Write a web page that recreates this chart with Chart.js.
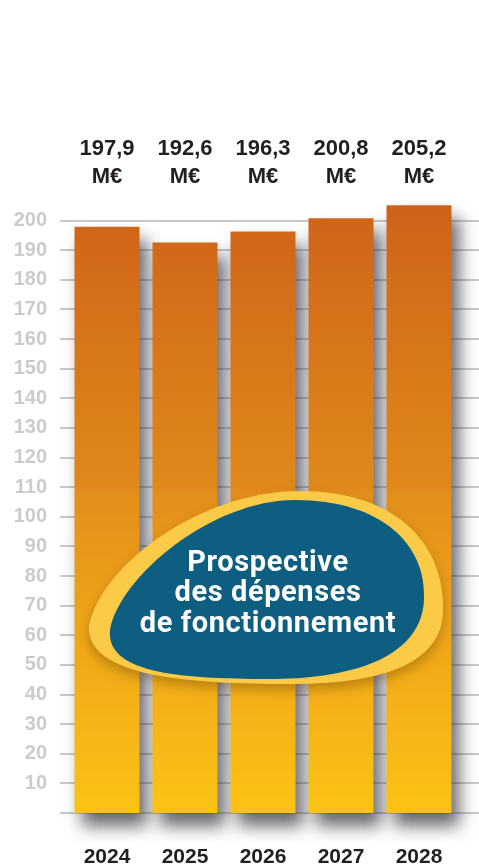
<!DOCTYPE html>
<html>
<head>
<meta charset="utf-8">
<script src="https://cdn.jsdelivr.net/npm/chart.js@4/dist/chart.umd.min.js"></script>
<style>
  html, body { margin: 0; padding: 0; background: #fff; }
  #wrap { width: 479px; height: 867px; position: relative; }
</style>
</head>
<body>
<div id="wrap"><canvas id="myChart" width="479" height="867"></canvas></div>
<script>
// data
const years = ['2024', '2025', '2026', '2027', '2028'];
const spending = [197.9, 192.6, 196.3, 200.8, 205.2];
const valueLabels = ['197,9', '192,6', '196,3', '200,8', '205,2'];
const unitLabel = 'M€';
const titleLines = ['Prospective', 'des dépenses', 'de fonctionnement'];

const fontMain = '"Liberation Sans", Arial, sans-serif';

const barFill = (context) => {
  const area = context.chart.chartArea;
  if (!area) return '#e08a1a';
  const g = context.chart.ctx.createLinearGradient(0, 200, 0, area.bottom);
  g.addColorStop(0, '#ce6219');
  g.addColorStop(0.47, '#e0891a');
  g.addColorStop(0.48, '#e38f1b');
  g.addColorStop(1, '#fcc315');
  return g;
};

// grey grid lines running past the bars, from the y scale ticks
const gridPlugin = {
  id: 'gridLines',
  beforeDatasetsDraw(chart) {
    const ctx = chart.ctx;
    const y = chart.scales.y;
    ctx.save();
    ctx.strokeStyle = '#c8c8c8';
    ctx.lineWidth = 2;
    y.ticks.forEach((t) => {
      if (t.value > 200) return;
      const py = Math.round(y.getPixelForValue(t.value));
      ctx.beginPath();
      ctx.moveTo(60, py);
      ctx.lineTo(479, py);
      ctx.stroke();
    });
    ctx.restore();
  },
};

const shadowPlugin = {
  id: 'barShadow',
  beforeDatasetDraw(chart) {
    const ctx = chart.ctx;
    ctx.save();
    ctx.shadowColor = 'rgba(50,50,60,0.75)';
    ctx.shadowBlur = 16;
    ctx.shadowOffsetX = 7;
    ctx.shadowOffsetY = 13;
  },
  afterDatasetDraw(chart) {
    chart.ctx.restore();
  },
};

const valuePlugin = {
  id: 'valueLabels',
  afterDatasetsDraw(chart) {
    const ctx = chart.ctx;
    const x = chart.scales.x;
    ctx.save();
    ctx.fillStyle = '#231f20';
    ctx.font = 'bold 22px ' + fontMain;
    ctx.textAlign = 'center';
    ctx.textBaseline = 'middle';
    valueLabels.forEach((lab, i) => {
      const px = x.getPixelForValue(i);
      ctx.fillText(lab, px, 149);
      ctx.fillText(unitLabel, px, 177);
    });
    ctx.restore();
  },
};

const blobPlugin = {
  id: 'titleBlob',
  afterDraw(chart) {
    const ctx = chart.ctx;
    ctx.save();
    // yellow outer shape
    ctx.shadowColor = 'rgba(90,50,0,0.35)';
    ctx.shadowBlur = 12;
    ctx.shadowOffsetY = 6;
    ctx.fillStyle = '#fbca47';
    ctx.beginPath();
    ctx.moveTo(89, 626);
    ctx.bezierCurveTo(100, 566, 200, 491, 300, 491);
    ctx.bezierCurveTo(392, 491, 445, 540, 443, 612);
    ctx.bezierCurveTo(441, 672, 362, 684, 290, 684);
    ctx.bezierCurveTo(185, 684, 86, 676, 89, 626);
    ctx.closePath();
    ctx.fill();
    ctx.restore();

    ctx.save();
    ctx.fillStyle = '#0e5e81';
    ctx.beginPath();
    ctx.moveTo(110, 630);
    ctx.bezierCurveTo(120, 576, 212, 500, 295, 500);
    ctx.bezierCurveTo(382, 500, 427, 545, 424, 600);
    ctx.bezierCurveTo(421, 662, 342, 679, 270, 679);
    ctx.bezierCurveTo(175, 679, 106, 672, 110, 630);
    ctx.closePath();
    ctx.fill();

    ctx.fillStyle = '#ffffff';
    ctx.font = 'bold 29px Roboto, "Noto Sans", sans-serif';
    ctx.letterSpacing = '0.6px';
    ctx.textAlign = 'center';
    ctx.textBaseline = 'alphabetic';
    const baselines = [571, 601, 632];
    titleLines.forEach((line, i) => ctx.fillText(line, 268, baselines[i]));
    ctx.restore();
  },
};

const ctx = document.getElementById('myChart').getContext('2d');
const myChart = new Chart(ctx, {
  type: 'bar',
  data: {
    labels: years,
    datasets: [{
      data: spending,
      backgroundColor: barFill,
      borderWidth: 0,
      barPercentage: 65 / 78,
      categoryPercentage: 1,
      clip: false,
    }],
  },
  options: {
    responsive: false,
    animation: false,
    layout: { padding: { top: 191, right: 21, left: 0, bottom: 0 } },
    plugins: {
      legend: { display: false },
      tooltip: { enabled: false },
    },
    scales: {
      x: {
        grid: { display: false, drawTicks: false },
        border: { display: false },
        ticks: {
          color: '#231f20',
          font: { family: fontMain, size: 21, weight: 'bold' },
          padding: 32,
          autoSkip: false,
          maxRotation: 0,
        },
        afterFit(scale) { scale.height = 54; },
      },
      y: {
        min: 0,
        max: 210,
        grid: { display: false, drawTicks: false },
        border: { display: false },
        ticks: {
          stepSize: 10,
          color: '#cbcbcb',
          font: { family: fontMain, size: 20, weight: 'bold' },
          padding: 21,
          callback: (v) => (v > 0 && v <= 200 ? v : ''),
        },
        afterFit(scale) { scale.width = 68; },
      },
    },
  },
  plugins: [gridPlugin, shadowPlugin, valuePlugin, blobPlugin],
});
</script>
</body>
</html>
